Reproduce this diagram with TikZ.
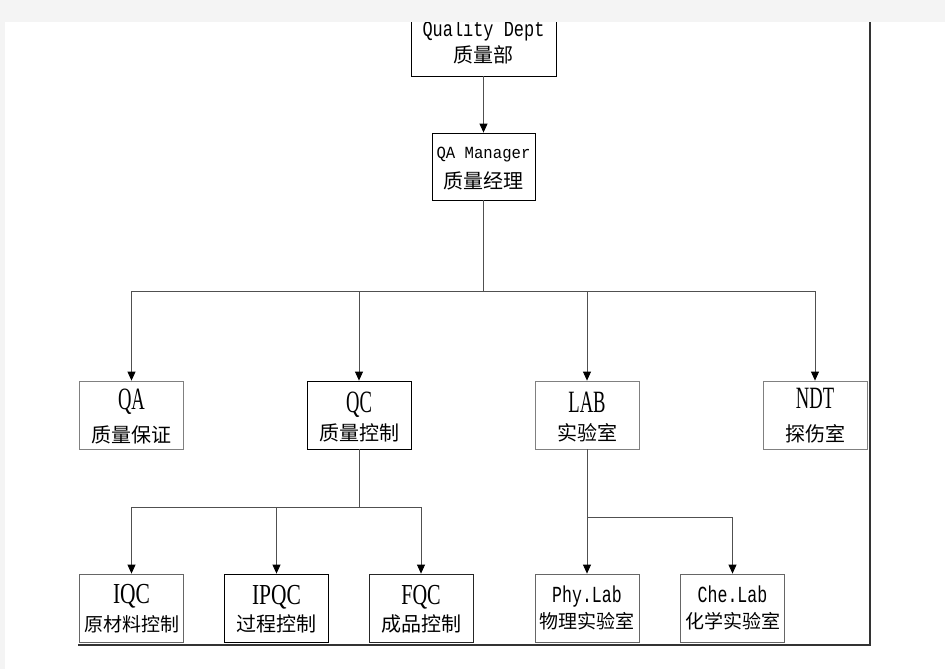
\documentclass[tikz,border=0pt]{standalone}
\usepackage{fontspec}
\usepackage{graphicx}
\setmainfont{Liberation Serif}
\newfontfamily\cjk{Noto Sans CJK SC}
\newfontfamily\mono{Liberation Mono}
\newcommand\nx[2]{\scalebox{#1}[1]{#2}}
\usetikzlibrary{arrows.meta}
\definecolor{pagegray}{HTML}{F4F4F4}
\definecolor{linegray}{HTML}{505050}
\tikzset{
  orgbox/.style={draw=black!75, line width=0.8pt, fill=white, minimum width=104pt,
    minimum height=68pt, inner sep=0pt},
  link/.style={draw=linegray, line width=0.8pt},
  arr/.style={link, -{Triangle[length=9pt,width=8pt,color=black]}},
  txt/.style={anchor=base, inner sep=0pt},
  cjktxt/.style={txt, font=\fontsize{20}{24}\cjk},
  cjksm/.style={txt, font=\fontsize{19}{24}\cjk},
  bigtxt/.style={txt, font=\fontsize{31}{34}\selectfont},
  lowtxt/.style={txt, font=\fontsize{29}{32}\selectfont},
}
\begin{document}
\begin{tikzpicture}[x=1pt,y=-1pt]
\useasboundingbox (0,0) rectangle (945,669);
\fill[pagegray] (0,0) rectangle (945,669);
\fill[white] (5,22) rectangle (945,669);

% boxes
\node[orgbox, minimum width=145pt, draw=black] (qd) at (483.5,42) {};
\node[orgbox, minimum width=103pt, minimum height=67pt, draw=black] (qm) at (483.5,166.5) {};
\node[orgbox, draw=black!50] (qa) at (131.5,415) {};
\node[orgbox, draw=black] (qc) at (359,415) {};
\node[orgbox, draw=black!50] (lab) at (587,415) {};
\node[orgbox, draw=black!50] (ndt) at (815,415) {};
\node[orgbox, draw=black!60] (iqc) at (131.5,608) {};
\node[orgbox, draw=black] (ipqc) at (276.5,608) {};
\node[orgbox, draw=black!85] (fqc) at (421,608) {};
\node[orgbox, draw=black!60] (phy) at (587,608) {};
\node[orgbox, draw=black!60] (che) at (732.5,608) {};

% texts
\node[txt, font=\fontsize{22}{24}\mono] (qd1) at (483.5,37) {\nx{0.77}{Quality Dept}};
\node[cjktxt] (qd2) at (483.5,63) {质量部};
\node[txt, font=\fontsize{17}{20}\mono] (qm1) at (483.5,158) {\nx{0.92}{QA Manager}};
\node[cjktxt] (qm2) at (483.5,188) {质量经理};

\node[bigtxt] (qa1) at (131.5,409) {\nx{0.6}{QA}};
\node[cjktxt] (qa2) at (131.5,442) {质量保证};
\node[bigtxt] (qc1) at (359,412) {\nx{0.6}{QC}};
\node[cjktxt] (qc2) at (359,440) {质量控制};
\node[bigtxt] (lab1) at (587,412) {\nx{0.6}{LAB}};
\node[cjktxt] (lab2) at (587,440) {实验室};
\node[bigtxt] (ndt1) at (815,408) {\nx{0.6}{NDT}};
\node[cjktxt] (ndt2) at (815,441) {探伤室};

\node[lowtxt] (iqc1) at (131.5,603) {\nx{0.74}{IQC}};
\node[cjksm] (iqc2) at (131.5,631) {原材料控制};
\node[lowtxt] (ipqc1) at (276.5,604) {\nx{0.74}{IPQC}};
\node[cjktxt] (ipqc2) at (276.5,631) {过程控制};
\node[lowtxt] (fqc1) at (421,604) {\nx{0.7}{FQC}};
\node[cjktxt] (fqc2) at (421,631) {成品控制};
\node[txt, font=\fontsize{23}{24}\mono] (phy1) at (587,602) {\nx{0.72}{Phy.Lab}};
\node[cjksm] (phy2) at (587,628.5) {物理实验室};
\node[txt, font=\fontsize{23}{24}\mono] (che1) at (732.5,602) {\nx{0.72}{Che.Lab}};
\node[cjksm] (che2) at (732.5,628.5) {化学实验室};

% branch points
\coordinate (b1) at (483.5,291);
\coordinate (b2) at (359,507);
\coordinate (b3) at (587,517);

% connectors
\draw[arr] (qd.south) -- (qm.north);
\draw[link] (qm.south) -- (b1);
\draw[arr] (b1) -| (qa.north);
\draw[arr] (b1) -| (qc.north);
\draw[arr] (b1) -| (lab.north);
\draw[arr] (b1) -| (ndt.north);

\draw[link] (qc.south) -- (b2);
\draw[arr] (b2) -| (iqc.north);
\draw[arr] (b2) -| (ipqc.north);
\draw[arr] (b2) -| (fqc.north);

\draw[link] (lab.south) -- (b3);
\draw[arr] (b3) -- (phy.north);
\draw[arr] (b3) -| (che.north);

% page edges
\coordinate (pt) at (870,22);
\coordinate (pc) at (870,645);
\coordinate (pl) at (78,645);
\draw[black!80, line width=1.2pt] (pt) -- (pc) -- (pl);

% top gray strip over the cut box
\fill[pagegray] (0,0) rectangle (945,22);
\end{tikzpicture}
\end{document}
